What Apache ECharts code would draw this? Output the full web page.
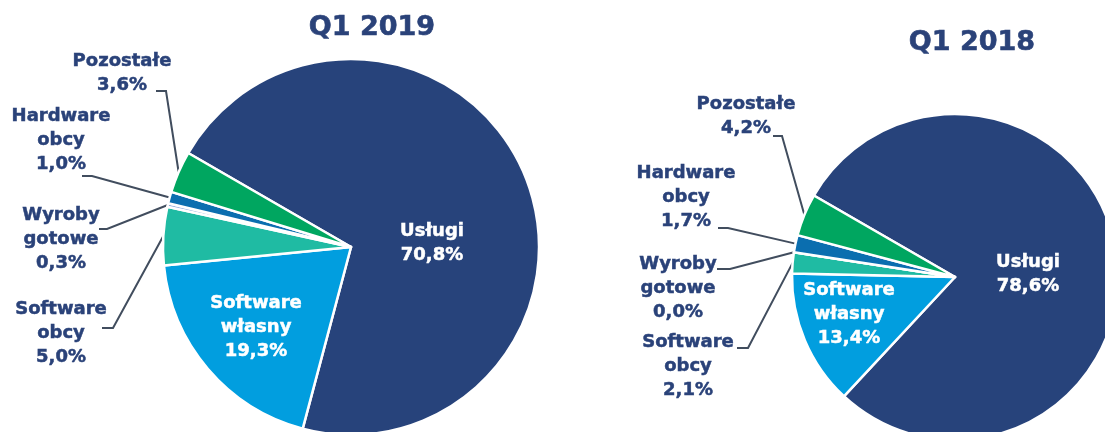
<!DOCTYPE html>
<html>
<head>
<meta charset="utf-8">
<script src="https://cdn.jsdelivr.net/npm/echarts@6/dist/echarts.min.js"></script>
<style>
  html, body { margin: 0; padding: 0; background: #ffffff; }
  #chart { width: 1105px; height: 432px; }
</style>
</head>
<body>
<div id="chart"></div>
<script>
// ---- Data ----
const categories = ['Usługi', 'Software własny', 'Software obcy', 'Wyroby gotowe', 'Hardware obcy', 'Pozostałe'];
const titles = ['Q1 2019', 'Q1 2018'];
const valuesQ12019 = [70.8, 19.3, 5.0, 0.3, 1.0, 3.6];
const valuesQ12018 = [78.6, 13.4, 2.1, 0.0, 1.7, 4.2];

// ---- Styles / layout ----
const sliceColors = ['#27437B', '#019EDF', '#1FBBA3', '#8FAADC', '#0B6EAF', '#00A660'];
const navy = '#2A4279';
const insideLabel = [true, true, false, false, false, false];

// label block centers and leader line elbows/ends, per series, per category
const labelLayouts = [
  [
    { x: 432, y: 243 },
    { x: 256, y: 327 },
    { x: 61, y: 333, elbow: [113, 328], end: [102, 328] },
    { x: 61, y: 239, elbow: [107, 229], end: [99, 229] },
    { x: 61, y: 140, elbow: [92, 176], end: [82, 176] },
    { x: 122, y: 73, elbow: [166, 91], end: [156, 91] }
  ],
  [
    { x: 1028, y: 274 },
    { x: 849, y: 314 },
    { x: 688, y: 366, elbow: [748, 348], end: [737, 348] },
    { x: 678, y: 288, elbow: [730, 269], end: [717, 269] },
    { x: 686, y: 197, elbow: [728, 228], end: [718, 228] },
    { x: 746, y: 116, elbow: [782, 136], end: [773, 136] }
  ]
];

function fmt(v) { return v.toFixed(1).replace('.', ',') + '%'; }

function buildData(values) {
  return categories.map((name, i) => ({
    name: name,
    value: values[i],
    itemStyle: { color: sliceColors[i] },
    label: insideLabel[i]
      ? { color: '#ffffff', textBorderColor: '#ffffff', textBorderWidth: 0.5 }
      : { color: navy, textBorderColor: navy, textBorderWidth: 0.5 },
    labelLine: { show: !insideLabel[i] }
  }));
}

function makeLayout(seriesIdx) {
  return function (params) {
    const L = labelLayouts[seriesIdx][params.dataIndex];
    const res = { x: L.x, y: L.y, align: 'center', verticalAlign: 'middle' };
    if (L.elbow && params.labelLinePoints) {
      res.labelLinePoints = [params.labelLinePoints[0], L.elbow, L.end];
    }
    return res;
  };
}

const font = 'DejaVu Sans';

function pieSeries(values, center, radius, idx) {
  return {
    type: 'pie',
    center: center,
    radius: radius,
    startAngle: 150,
    clockwise: true,
    avoidLabelOverlap: false,
    minShowLabelAngle: 0,
    data: buildData(values),
    itemStyle: { borderColor: '#ffffff', borderWidth: 2.5 },
    label: {
      show: true,
      position: 'outside',
      fontFamily: font,
      fontWeight: 'bold',
      fontSize: 18,
      lineHeight: 24,
      align: 'center',
      formatter: p => p.name.replace(' ', '\n') + '\n' + fmt(p.value)
    },
    labelLine: {
      show: true,
      lineStyle: { color: '#414D5E', width: 2 }
    },
    labelLayout: makeLayout(idx),
    emphasis: { disabled: true }
  };
}

const titleStyle = { fontFamily: font, fontWeight: 'bold', fontSize: 27, color: navy,
  textBorderColor: navy, textBorderWidth: 0.6 };

const chart = echarts.init(document.getElementById('chart'), null, { renderer: 'canvas' });
chart.setOption({
  animation: false,
  backgroundColor: '#ffffff',
  title: [
    { text: titles[0], left: 367, top: 9, textAlign: 'center', textStyle: titleStyle },
    { text: titles[1], left: 967, top: 24, textAlign: 'center', textStyle: titleStyle }
  ],
  series: [
    pieSeries(valuesQ12019, [351, 247], 188, 0),
    pieSeries(valuesQ12018, [955, 277], 163, 1)
  ]
});
</script>
</body>
</html>
